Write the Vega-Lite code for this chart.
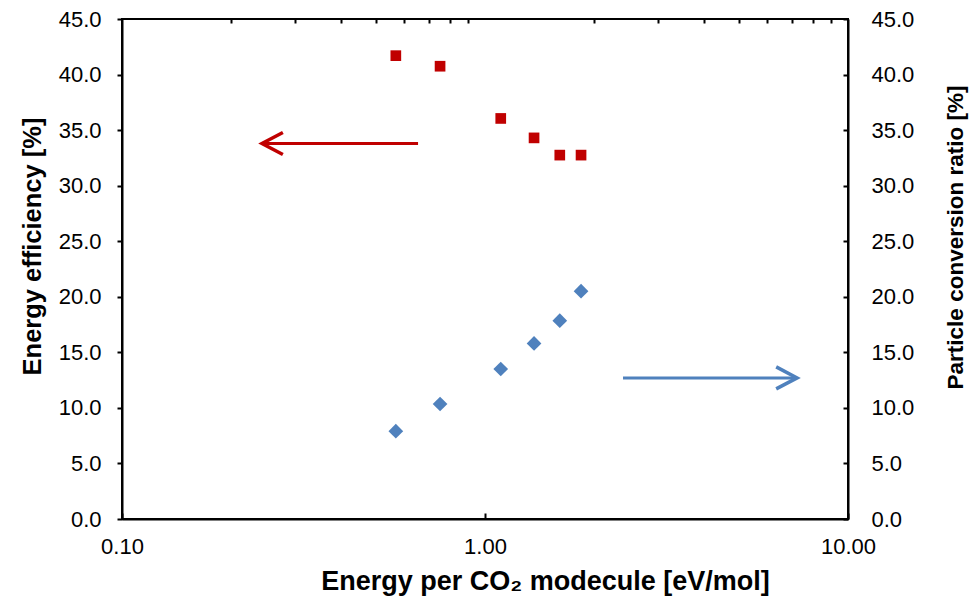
{
  "$schema": "https://vega.github.io/schema/vega-lite/v6.json",
  "width": 726,
  "height": 500,
  "autosize": {"type": "none"},
  "padding": {"left": 122, "top": 19, "right": 128, "bottom": 82},
  "background": "white",
  "config": {
    "view": {"stroke": "black", "strokeWidth": 2},
    "font": "Liberation Sans",
    "axis": {
      "labelFont": "Liberation Sans",
      "titleFont": "Liberation Sans",
      "labelColor": "black",
      "titleColor": "black",
      "domainColor": "black",
      "tickColor": "black",
      "domainWidth": 2,
      "tickWidth": 2,
      "grid": false,
      "labelFontSize": 22,
      "titleFontSize": 22.5,
      "titleFontWeight": "bold",
      "labelFlush": false,
      "labelOverlap": false
    }
  },
  "datasets": {
    "efficiency": [
      {"x": 0.568, "y": 41.7},
      {"x": 0.752, "y": 40.75},
      {"x": 1.105, "y": 36.05},
      {"x": 1.365, "y": 34.3},
      {"x": 1.607, "y": 32.75},
      {"x": 1.839, "y": 32.75}
    ],
    "conversion": [
      {"x": 0.568, "y": 7.9},
      {"x": 0.752, "y": 10.35},
      {"x": 1.105, "y": 13.5},
      {"x": 1.365, "y": 15.8},
      {"x": 1.607, "y": 17.85},
      {"x": 1.839, "y": 20.5}
    ],
    "arrows": [
      {"series": "efficiency", "x": 0.243, "x2": 0.654, "y": 33.8},
      {"series": "conversion", "x": 7.24, "x2": 2.4, "y": 12.7}
    ]
  },
  "layer": [
    {
      "encoding": {
        "x": {
          "field": "x", "type": "quantitative",
          "scale": {"type": "log", "domain": [0.1, 10], "nice": false},
          "axis": {
            "values": [0.1, 1, 10], "format": ".2f",
            "tickSize": -6, "labelPadding": 23,
            "title": "Energy per CO₂ modecule [eV/mol]", "titlePadding": 11,
            "titleFontSize": 27, "titleX": 423
          }
        },
        "y": {
          "field": "y", "type": "quantitative",
          "scale": {"domain": [0, 45], "nice": false, "zero": true},
          "axis": {
            "orient": "left",
            "values": [0, 5, 10, 15, 20, 25, 30, 35, 40, 45], "format": ".1f",
            "tickSize": 5, "labelPadding": 16,
            "title": "Energy efficiency [%]", "titlePadding": 13, "titleY": 227,
            "titleFontSize": 25.5
          }
        }
      },
      "layer": [
        {
          "data": {"name": "efficiency"},
          "mark": {"type": "point", "shape": "square", "filled": true, "size": 114, "color": "#C00000", "opacity": 1}
        },
        {
          "data": {"name": "arrows"},
          "transform": [{"filter": "datum.series === 'efficiency'"}],
          "mark": {"type": "rule", "color": "#C00000", "strokeWidth": 3},
          "encoding": {"x2": {"field": "x2"}}
        },
        {
          "data": {"name": "arrows"},
          "transform": [{"filter": "datum.series === 'efficiency'"}],
          "mark": {"type": "point", "shape": "M1.9,-1L0,0L1.9,1", "filled": false, "size": 484, "stroke": "#C00000", "strokeWidth": 3.5, "opacity": 1}
        }
      ]
    },
    {
      "encoding": {
        "x": {
          "field": "x", "type": "quantitative",
          "scale": {"type": "log", "domain": [0.1, 10], "nice": false},
          "axis": {
            "values": [0.2, 0.3, 0.4, 0.5, 0.6, 0.7, 0.8, 0.9, 2, 3, 4, 5, 6, 7, 8, 9],
            "labels": false, "domain": false, "tickSize": -4, "title": null
          }
        },
        "y": {
          "field": "y", "type": "quantitative",
          "scale": {"domain": [0, 45], "nice": false, "zero": true},
          "axis": {
            "orient": "right",
            "values": [0, 5, 10, 15, 20, 25, 30, 35, 40, 45], "format": ".1f",
            "tickSize": -5, "labelPadding": 28,
            "title": "Particle conversion ratio [%]", "titlePadding": 31,
            "titleAngle": 270, "titleBaseline": "top", "titleY": 218
          }
        }
      },
      "layer": [
        {
          "data": {"name": "conversion"},
          "mark": {"type": "point", "shape": "diamond", "filled": true, "size": 216, "color": "#4F81BD", "opacity": 1}
        },
        {
          "data": {"name": "arrows"},
          "transform": [{"filter": "datum.series === 'conversion'"}],
          "mark": {"type": "rule", "color": "#4F81BD", "strokeWidth": 3},
          "encoding": {"x2": {"field": "x2"}}
        },
        {
          "data": {"name": "arrows"},
          "transform": [{"filter": "datum.series === 'conversion'"}],
          "mark": {"type": "point", "shape": "M-1.9,-1L0,0L-1.9,1", "filled": false, "size": 484, "stroke": "#4F81BD", "strokeWidth": 3.5, "opacity": 1}
        }
      ]
    }
  ],
  "resolve": {"scale": {"y": "independent"}, "axis": {"x": "independent"}}
}
